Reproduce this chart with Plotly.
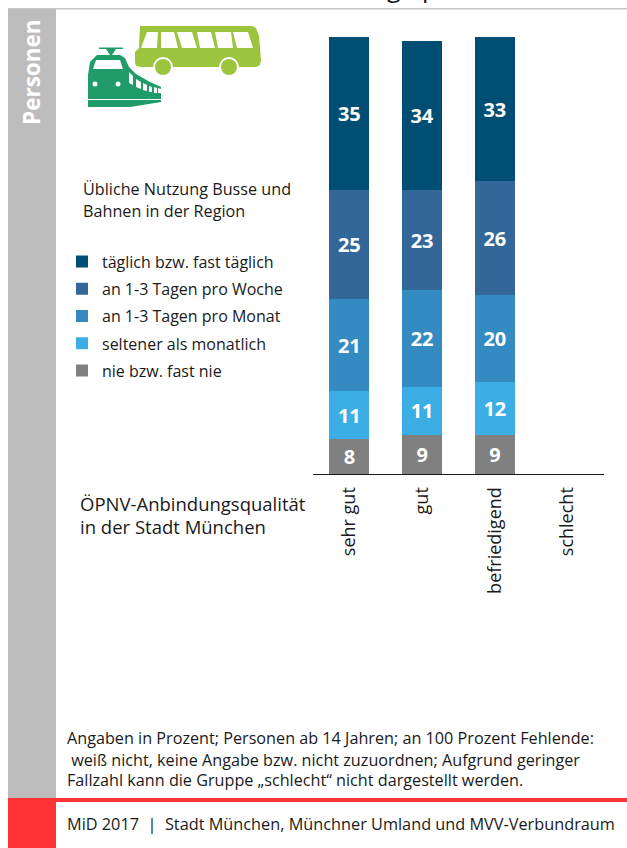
import plotly.graph_objects as go

categories = ["sehr gut", "gut", "befriedigend", "schlecht"]
nie = [8, 9, 9, None]
seltener = [11, 11, 12, None]
monat = [21, 22, 20, None]
woche = [25, 23, 26, None]
taeglich = [35, 34, 33, None]

series = [
    ("täglich bzw. fast täglich", taeglich, "#004e73"),
    ("an 1-3 Tagen pro Woche", woche, "#336699"),
    ("an 1-3 Tagen pro Monat", monat, "#338bc2"),
    ("seltener als monatlich", seltener, "#3caee6"),
    ("nie bzw. fast nie", nie, "#808080"),
]

W, H = 627, 848
FONT = "Open Sans"


def px(x):
    return x / W


def py(y):
    return 1 - y / H


fig = go.Figure()
for rank, (name, vals, col) in reversed(list(enumerate(series))):
    fig.add_trace(go.Bar(
        x=categories, y=vals, name=name, legendgroup=name, legendrank=rank + 1,
        marker=dict(color=col, line=dict(width=0)),
        text=vals, textposition="inside", insidetextanchor="middle",
        textangle=0, constraintext="none",
        textfont=dict(family=FONT, size=20, color="white", weight="bold"),
        hoverinfo="name+y",
    ))

shapes = []


def rect(x0, y0, x1, y1, col):
    shapes.append(dict(type="rect", xref="paper", yref="paper", x0=px(x0), x1=px(x1),
                       y0=py(y0), y1=py(y1), fillcolor=col, line_width=0, layer="below"))


def path(points, col, layer="above"):
    d = "M" + " L".join(f"{px(a):.5f},{py(b):.5f}" for a, b in points) + " Z"
    shapes.append(dict(type="path", xref="paper", yref="paper", path=d,
                       fillcolor=col, line_width=0, layer=layer))


def circle(cx, cy, r, col):
    shapes.append(dict(type="circle", xref="paper", yref="paper",
                       x0=px(cx - r), x1=px(cx + r), y0=py(cy + r), y1=py(cy - r),
                       fillcolor=col, line_width=0, layer="above"))


rect(8, 8, 627, 9.5, "#c6c6c6")
rect(8, 9, 56, 798, "#bdbdbd")
rect(8, 798, 56, 848, "#ff3333")
rect(56, 798, 627, 802, "#ff3333")

GREEN = "#9bc53d"
TRAIN = "#1f9c68"
path([(140, 26), (252, 26), (256, 28), (259, 36), (261, 60), (260, 65), (256, 67),
      (141, 67), (136, 66), (135, 62), (135, 52), (139, 48)], GREEN)
for w in [[(147, 32), (158, 32), (157, 48), (141, 48)],
          [(161, 32), (174, 32), (178, 48), (161, 48)],
          [(177, 32), (192, 32), (197, 48), (182, 48)],
          [(197, 32), (211, 32), (215, 48), (200, 48)],
          [(215, 32), (231, 32), (233, 48), (218, 48)],
          [(233, 32), (248, 32), (253, 48), (237, 48)]]:
    path(w, "white")
for cx in (163, 229):
    circle(cx, 67, 10, "white")
    circle(cx, 67, 8, GREEN)

path([(99, 47.5), (123, 47.5), (123, 49), (116, 49), (112, 55), (110, 55), (106, 49), (99, 49)], TRAIN)
path([(97, 55), (120, 55), (125, 58), (129, 67), (136, 74), (150, 82), (161, 87),
      (161, 99), (88, 99), (88, 75), (90, 62)], TRAIN)
path([(88, 100), (161, 100), (161, 102), (130, 107), (88, 107)], TRAIN)
path([(96, 60), (120, 60), (123, 69), (93, 69)], "white")
for s in [[(129, 72), (133, 76), (133, 85), (129, 83)],
          [(136, 79), (141, 82), (141, 89), (136, 87)],
          [(143, 83), (147, 85), (147, 91), (143, 90)],
          [(149, 86), (152, 87), (152, 92), (149, 92)],
          [(154, 87), (157, 88), (157, 93), (154, 93)],
          [(158, 88), (161, 89), (161, 93), (158, 93)]]:
    path(s, "white")
circle(95, 84, 2.5, "white")
circle(118, 84, 2.5, "white")


def note(x, y, text, size=15, color="#1a1a1a", angle=0, xa="left", ya="middle", weight="normal"):
    return dict(x=px(x), y=py(y), xref="paper", yref="paper", text=text, showarrow=False,
                xanchor=xa, yanchor=ya, align="left", textangle=angle,
                font=dict(family=FONT, size=size, color=color, weight=weight))


annotations = [
    note(394, 6, "g", size=25, color="#111111", xa="center", ya="bottom"),
    note(430, 6, "p", size=25, color="#111111", xa="center", ya="bottom"),
    note(32, 72, "Personen", size=22.5, color="white", angle=-90, xa="center", weight="bold"),
    note(81, 188.5, "Übliche Nutzung Busse und", size=16.2),
    note(81, 210.5, "Bahnen in der Region", size=16.2),
    note(78, 503, "ÖPNV-Anbindungsqualität", size=18.5),
    note(78, 526.5, "in der Stadt München", size=18.5),
    note(65, 737.5, "Angaben in Prozent; Personen ab 14 Jahren; an 100 Prozent Fehlende:", size=16.2),
    note(65, 759.5, " weiß nicht, keine Angabe bzw. nicht zuzuordnen; Aufgrund geringer", size=16.2),
    note(65, 780, "Fallzahl kann die Gruppe „schlecht“ nicht dargestellt werden.", size=16.2),
    note(65, 824, "MiD 2017  |  Stadt München, Münchner Umland und MVV-Verbundraum", size=16.3),
]

fig.update_layout(
    width=W, height=H, autosize=False,
    margin=dict(l=0, r=0, t=0, b=0),
    paper_bgcolor="white", plot_bgcolor="white",
    barmode="stack", bargap=0.45,
    font=dict(family=FONT, color="#1a1a1a"),
    shapes=shapes, annotations=annotations,
    xaxis=dict(domain=[px(313), px(604)], type="category", categoryorder="array",
               categoryarray=categories, range=[-0.5, 3.5], showgrid=False, zeroline=False,
               showline=True, linecolor="#1a1a1a", linewidth=1, ticks="",
               tickangle=-90, ticklabelstandoff=5,
               tickfont=dict(family=FONT, size=18, color="#1a1a1a")),
    yaxis=dict(domain=[py(474), py(37)], range=[0, 100], visible=False),
    showlegend=True,
    legend=dict(x=px(62), y=py(244.5), xanchor="left", yanchor="top",
                traceorder="grouped", tracegroupgap=3.5, bgcolor="rgba(0,0,0,0)",
                font=dict(family=FONT, size=16, color="#1a1a1a")),
)
fig.write_html("out.html", config={"displayModeBar": False},
               post_script="document.body.style.margin='0';document.documentElement.style.overflow='hidden';")
